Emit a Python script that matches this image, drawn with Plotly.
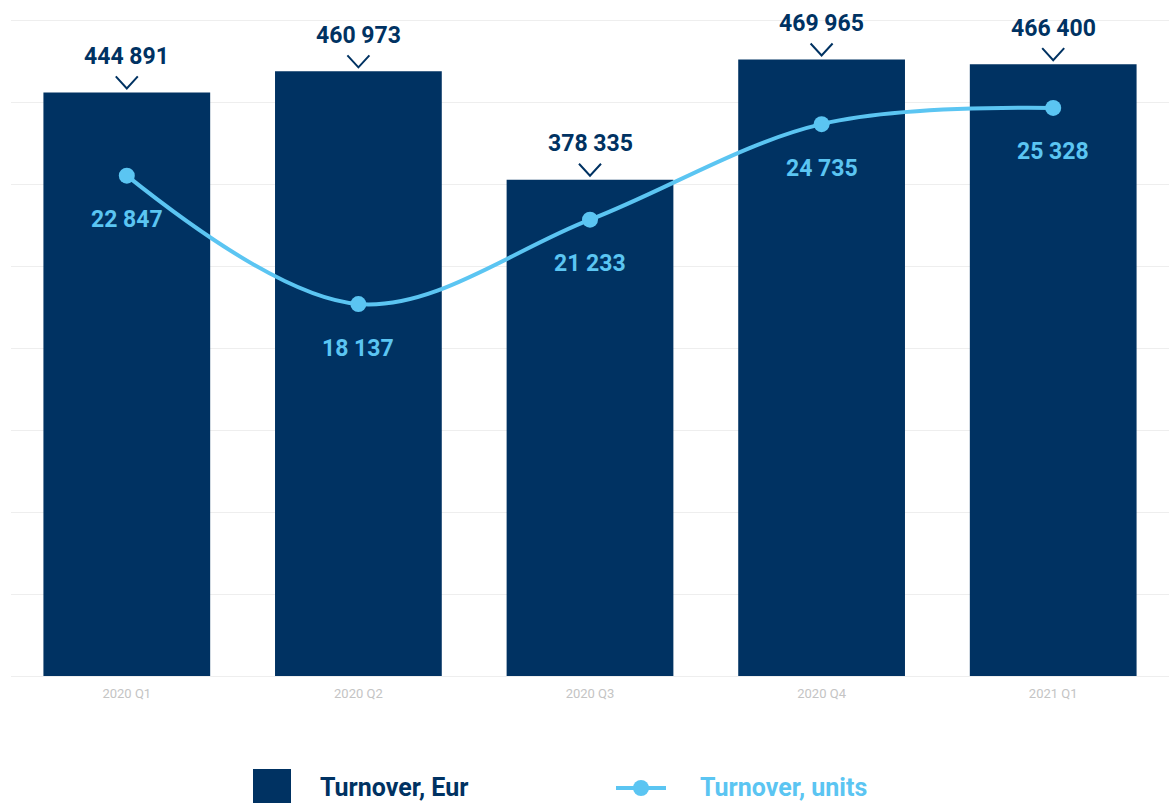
import plotly.graph_objects as go

# Quarterly turnover data
quarters = ["2020 Q1", "2020 Q2", "2020 Q3", "2020 Q4", "2021 Q1"]
turnover_eur = [444891, 460973, 378335, 469965, 466400]
turnover_units = [22847, 18137, 21233, 24735, 25328]

NAVY = "#003262"
SKY = "#5bc5f2"
FONT = "Roboto"

W, H = 1169, 803
M_L, M_R, M_T, M_B = 11, 0, 7, 127
PW = W - M_L - M_R
PH = H - M_T - M_B

Y_MAX = 510000  # a little headroom so the 500 000 grid line is drawn


def fmt(v):
    return f"{v:,}".replace(",", " ")


def px_x(px):
    return (px - M_L) / PW


def px_y(py):
    return (H - M_B - py) / PH


idx = list(range(len(quarters)))

fig = go.Figure()

fig.add_trace(go.Bar(
    x=idx, y=turnover_eur, width=0.72,
    marker=dict(color=NAVY, line=dict(width=0)),
    name="Turnover, Eur", showlegend=False, hoverinfo="skip",
))

fig.add_trace(go.Scatter(
    x=idx, y=turnover_units, yaxis="y2", mode="lines+markers",
    line=dict(color=SKY, width=4, shape="spline", smoothing=1.0),
    marker=dict(color=SKY, size=16),
    name="Turnover, units", showlegend=False, hoverinfo="skip",
))

annotations = []
shapes = []

# value labels above bars, with a chevron pointing down to each bar
for i, v in zip(idx, turnover_eur):
    annotations.append(dict(
        x=i, y=v, xref="x", yref="y", text=f"<b>{fmt(v)}</b>",
        showarrow=False, yshift=36, yanchor="middle",
        font=dict(family=FONT, size=23, color=NAVY),
    ))
    shapes.append(dict(
        type="path", xref="x", yref="y",
        xsizemode="pixel", ysizemode="pixel", xanchor=i, yanchor=v,
        path="M-11,16 L0,4 L11,16",
        line=dict(color=NAVY, width=2),
    ))

# value labels under line points
for i, v in zip(idx, turnover_units):
    annotations.append(dict(
        x=i, y=v, xref="x", yref="y2", text=f"<b>{fmt(v)}</b>",
        showarrow=False, yshift=-44, yanchor="middle",
        font=dict(family=FONT, size=23, color=SKY),
    ))

# legend drawn at the bottom
shapes.append(dict(
    type="rect", xref="paper", yref="paper",
    x0=px_x(253), x1=px_x(291), y0=px_y(812), y1=px_y(769),
    fillcolor=NAVY, line=dict(width=0),
))
annotations.append(dict(
    x=px_x(318), y=px_y(788), xref="paper", yref="paper",
    xanchor="left", yanchor="middle", showarrow=False,
    text="<b>Turnover, Eur</b>", font=dict(family=FONT, size=25, color=NAVY),
))
shapes.append(dict(
    type="line", xref="paper", yref="paper",
    x0=px_x(616), x1=px_x(666), y0=px_y(788), y1=px_y(788),
    line=dict(color=SKY, width=4),
))
shapes.append(dict(
    type="circle", xref="paper", yref="paper",
    x0=px_x(633), x1=px_x(649), y0=px_y(796), y1=px_y(780),
    fillcolor=SKY, line=dict(width=0),
))
annotations.append(dict(
    x=px_x(698), y=px_y(788), xref="paper", yref="paper",
    xanchor="left", yanchor="middle", showarrow=False,
    text="<b>Turnover, units</b>", font=dict(family=FONT, size=25, color=SKY),
))

fig.update_layout(
    width=W, height=H,
    margin=dict(l=M_L, r=M_R, t=M_T, b=M_B),
    paper_bgcolor="white", plot_bgcolor="white",
    showlegend=False,
    xaxis=dict(
        tickmode="array", tickvals=idx, ticktext=quarters,
        range=[-0.5, len(quarters) - 0.5],
        showgrid=False, zeroline=False, showline=False, ticks="",
        ticklabelstandoff=8,
        tickfont=dict(family=FONT, size=13, color="#c4c4c4"),
    ),
    yaxis=dict(
        range=[0, Y_MAX], tickmode="linear", tick0=0, dtick=62500,
        showticklabels=False,
        showgrid=True, gridcolor="#eeeeee", gridwidth=1,
        zeroline=True, zerolinecolor="#eeeeee", zerolinewidth=1,
    ),
    yaxis2=dict(
        range=[4500, 29030], overlaying="y", side="right",
        showgrid=False, showticklabels=False, zeroline=False,
    ),
    annotations=annotations,
    shapes=shapes,
)

fig.write_html("out.html")
